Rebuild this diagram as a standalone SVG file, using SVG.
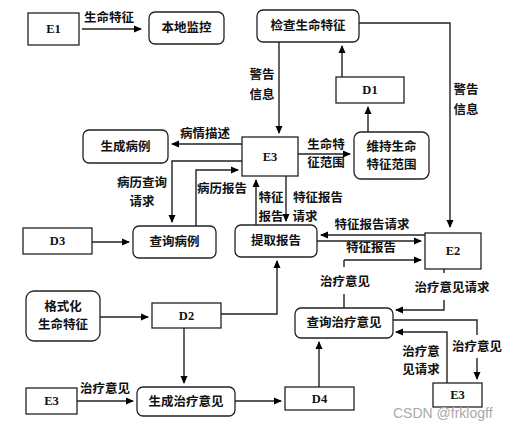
<svg xmlns="http://www.w3.org/2000/svg" width="514" height="430" viewBox="0 0 514 430">
<defs>
<marker id="ah" markerWidth="8" markerHeight="8" refX="7" refY="4" orient="auto" markerUnits="userSpaceOnUse">
<path d="M0,0.5 L8,4 L0,7.5 z" fill="#000"/>
</marker>
<style>
.box{fill:#fff;stroke:#222;stroke-width:1.3}
.rbox{fill:#fff;stroke:#222;stroke-width:1.3}
.t{font-family:"Liberation Serif","Noto Sans CJK SC",serif;font-size:12.5px;font-weight:bold;fill:#111;text-anchor:middle;dominant-baseline:central}
.lbl{font-family:"Liberation Serif","Noto Sans CJK SC",serif;font-size:12.5px;font-weight:bold;fill:#111;text-anchor:middle;dominant-baseline:central}
.c{fill:none;stroke:#222;stroke-width:1.4}
.a{fill:none;stroke:#222;stroke-width:1.4;marker-end:url(#ah)}
.wm{font-family:"Liberation Sans",Arial,sans-serif;font-size:14px;fill:#aaa}
</style>
</defs>
<rect width="514" height="430" fill="#fff"/>

<g id="connectors">
<path class="a" d="M82,29 H141"/>
<path class="a" d="M359,23 H450 V227"/>
<path class="a" d="M279,42 V133"/>
<path class="a" d="M342,77 V46"/>
<path class="a" d="M368,132 V107"/>
<path class="a" d="M298,154 H350"/>
<path class="a" d="M242,144 H172"/>
<path class="a" d="M242,161 H172 V222"/>
<path class="a" d="M196,226 V170 H238"/>
<path class="a" d="M92,242 H129"/>
<path class="a" d="M256,225 V180"/>
<path class="a" d="M286,176 V221"/>
<path class="a" d="M425,235 H321"/>
<path class="a" d="M317,241 H421"/>
<path class="c" d="M344,267 V260"/>
<path class="a" d="M344,260 H421"/>
<path class="c" d="M344,294 V308"/>
<path class="c" d="M444,269 V273"/>
<path class="a" d="M444,300 V310 H396"/>
<path class="c" d="M393,320 H477 V335"/>
<path class="a" d="M477,358 V379"/>
<path class="a" d="M447,383 V332 H396"/>
<path class="a" d="M319,387 V342"/>
<path class="a" d="M235,401 H281"/>
<path class="a" d="M100,317 H148"/>
<path class="a" d="M221,314 H277 V261"/>
<path class="a" d="M184,328 V383"/>
<path class="a" d="M77,401 H133"/>
</g>

<g id="E1"><rect class="box" x="28" y="13" width="51" height="32"/><text class="t" x="53.5" y="29">E1</text></g>
<g id="bendi"><rect class="rbox" x="149" y="12" width="75" height="32" rx="6"/><text class="t" x="186.5" y="28">本地监控</text></g>
<g id="jiancha"><rect class="rbox" x="257" y="10" width="102" height="32" rx="6"/><text class="t" x="308" y="26">检查生命特征</text></g>
<g id="D1"><rect class="box" x="336" y="77" width="68" height="26"/><text class="t" x="370" y="90">D1</text></g>
<g id="E3a"><rect class="box" x="242" y="137" width="56" height="39"/><text class="t" x="270" y="156.5">E3</text></g>
<g id="weichi"><rect class="rbox" x="354" y="132" width="75" height="47" rx="7"/><text class="t" x="391.5" y="147">维持生命</text><text class="t" x="391.5" y="165">特征范围</text></g>
<g id="shengchengbingli"><rect class="rbox" x="83" y="130" width="85" height="33" rx="6"/><text class="t" x="125.5" y="146.5">生成病例</text></g>
<g id="D3"><rect class="box" x="23" y="228" width="69" height="26"/><text class="t" x="57.5" y="241">D3</text></g>
<g id="chaxunbingli"><rect class="rbox" x="133" y="226" width="83" height="32" rx="6"/><text class="t" x="174.5" y="242">查询病例</text></g>
<g id="tiqu"><rect class="rbox" x="235" y="225" width="82" height="32" rx="6"/><text class="t" x="276" y="241">提取报告</text></g>
<g id="E2"><rect class="box" x="425" y="233" width="56" height="36"/><text class="t" x="453" y="251">E2</text></g>
<g id="geshihua"><rect class="rbox" x="26" y="291" width="74" height="50" rx="8"/><text class="t" x="63" y="307">格式化</text><text class="t" x="63" y="325">生命特征</text></g>
<g id="D2"><rect class="box" x="152" y="303" width="69" height="25"/><text class="t" x="186.5" y="315.5">D2</text></g>
<g id="chaxunzhiliao"><rect class="rbox" x="295" y="308" width="98" height="30" rx="6"/><text class="t" x="344" y="323">查询治疗意见</text></g>
<g id="E3b"><rect class="box" x="26" y="388" width="51" height="26"/><text class="t" x="51.5" y="401">E3</text></g>
<g id="shengchengzhiliao"><rect class="rbox" x="137" y="387" width="98" height="29" rx="6"/><text class="t" x="186" y="401.5">生成治疗意见</text></g>
<g id="D4"><rect class="box" x="285" y="387" width="69" height="23"/><text class="t" x="319.5" y="398.5">D4</text></g>
<g id="E3c"><rect class="box" x="433" y="383" width="49" height="24"/><text class="t" x="457.5" y="395">E3</text></g>

<g id="labels">
<text class="lbl" x="109" y="18">生命特征</text>
<text class="lbl" x="262" y="75">警告</text>
<text class="lbl" x="262" y="95">信息</text>
<text class="lbl" x="466" y="90">警告</text>
<text class="lbl" x="466" y="110">信息</text>
<text class="lbl" x="205" y="134">病情描述</text>
<text class="lbl" x="326" y="145">生命特</text>
<text class="lbl" x="326" y="163">征范围</text>
<text class="lbl" x="142" y="183">病历查询</text>
<text class="lbl" x="142" y="202">请求</text>
<text class="lbl" x="222" y="189">病历报告</text>
<text class="lbl" x="271" y="198">特征</text>
<text class="lbl" x="271" y="217">报告</text>
<text class="lbl" x="318" y="198">特征报告</text>
<text class="lbl" x="305" y="217">请求</text>
<text class="lbl" x="372" y="225">特征报告请求</text>
<text class="lbl" x="371" y="248">特征报告</text>
<text class="lbl" x="345" y="282">治疗意见</text>
<text class="lbl" x="452" y="288">治疗意见请求</text>
<text class="lbl" x="477" y="347">治疗意见</text>
<text class="lbl" x="421" y="352">治疗意</text>
<text class="lbl" x="421" y="370">见请求</text>
<text class="lbl" x="105" y="389">治疗意见</text>
</g>
<text class="wm" x="393" y="418">CSDN @frklogff</text>
</svg>
